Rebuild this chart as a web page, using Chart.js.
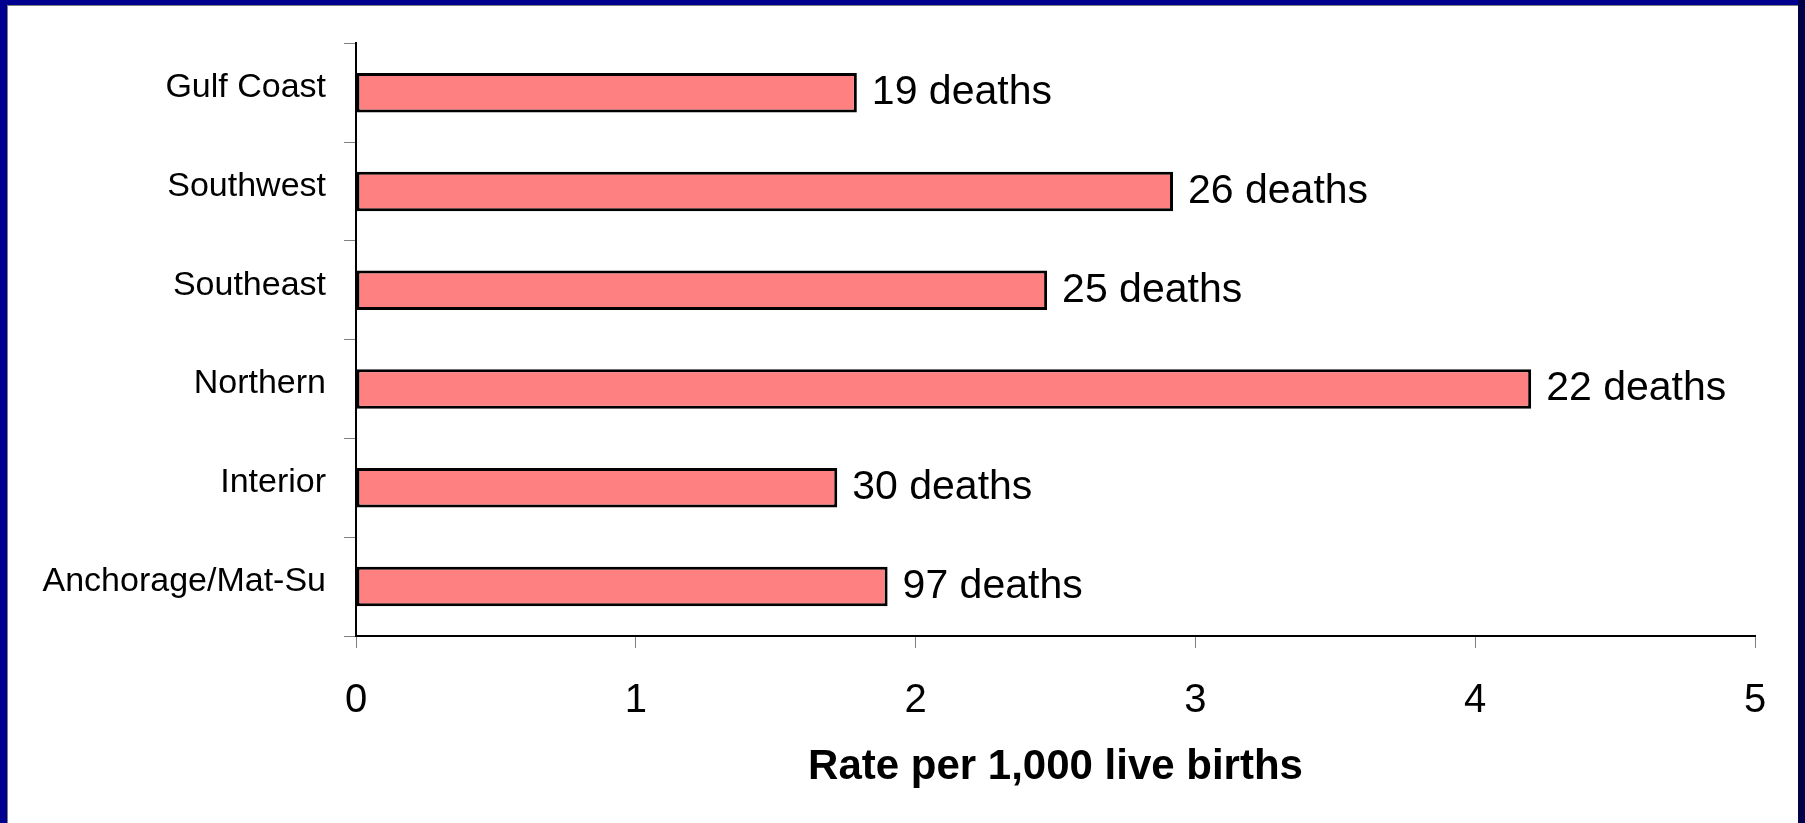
<!DOCTYPE html>
<html>
<head>
<meta charset="utf-8">
<script src="https://cdn.jsdelivr.net/npm/chart.js@4/dist/chart.umd.min.js"></script>
<style>
  html, body { margin: 0; padding: 0; background: #fff; overflow: hidden; }
  body { width: 1805px; height: 823px; position: relative; }
  .frameLeft { position: absolute; left: 0; top: 0; width: 7px; height: 823px; background: #000090; }
  .frameTop { position: absolute; left: 0; top: 0; width: 1805px; height: 5px; background: #000090; }
  .frameRight { position: absolute; right: 0; top: 0; width: 7px; height: 823px; background: #00004a; }
  .shade { position: absolute; left: 7px; top: 5px; width: 1791px; height: 818px;
           border-left: 1px solid #808080; border-top: 1px solid #808080; box-sizing: border-box; }
  #wrap { position: absolute; left: 7px; top: 5px; width: 1791px; height: 818px; }
</style>
</head>
<body>
<div id="wrap"><canvas id="barChart"></canvas></div>
<div class="shade"></div>
<div class="frameLeft"></div>
<div class="frameTop"></div>
<div class="frameRight"></div>
<script>
const ctx = document.getElementById('barChart')

let regions = ['Gulf Coast', 'Southwest', 'Southeast', 'Northern', 'Interior', 'Anchorage/Mat-Su']
let rates = [1.79, 2.92, 2.47, 4.2, 1.72, 1.9]
let deaths = [19, 26, 25, 22, 30, 97]
let xTicks = [0, 1, 2, 3, 4, 5]

// "NN deaths" text next to each bar
const deathLabels = {
  id: 'deathLabels',
  afterDatasetsDraw(chart) {
    const c = chart.ctx
    const meta = chart.getDatasetMeta(0)
    c.save()
    c.font = '41px "Liberation Sans", Arial, sans-serif'
    c.fillStyle = '#000'
    c.textAlign = 'left'
    c.textBaseline = 'middle'
    meta.data.forEach((bar, i) => {
      c.fillText(deaths[i] + ' deaths', bar.x + 15, bar.y)
    })
    c.restore()
  }
}

new Chart(ctx, {
  type: 'bar',
  data: {
    labels: regions,
    datasets: [{
      data: rates,
      backgroundColor: '#FF8080',
      borderColor: '#000',
      borderWidth: 3,
      borderSkipped: false,
      barPercentage: 0.4,
      categoryPercentage: 1,
    }],
  },
  options: {
    indexAxis: 'y',
    responsive: true,
    maintainAspectRatio: false,
    animation: false,
    layout: {
      padding: { left: 0, top: 29, right: 43, bottom: 0 },
    },
    scales: {
      y: {
        afterFit: (scale) => { scale.width = 349 },
        grid: {
          drawOnChartArea: false,
          color: '#808080',
          tickLength: 12,
          offset: true,
        },
        border: { color: '#000', width: 2 },
        ticks: {
          color: '#000',
          padding: 18,
          labelOffset: -5,
          font: { size: 34, family: '"Liberation Sans", Arial, sans-serif' },
        },
      },
      x: {
        min: 0,
        max: 5,
        afterFit: (scale) => { scale.height = 187 },
        afterBuildTicks: (scale) => { scale.ticks = xTicks.map(v => ({ value: v })) },
        grid: {
          drawOnChartArea: false,
          color: '#808080',
          tickLength: 12,
        },
        border: { color: '#000', width: 2 },
        ticks: {
          color: '#000',
          padding: 29,
          font: { size: 40, family: '"Liberation Sans", Arial, sans-serif' },
        },
        title: {
          display: true,
          text: 'Rate per 1,000 live births',
          color: '#000',
          padding: { top: 0, bottom: 30 },
          font: { size: 42, weight: 'bold', family: '"Liberation Sans", Arial, sans-serif' },
        },
      },
    },
    plugins: {
      legend: { display: false },
      tooltip: { enabled: false },
    },
  },
  plugins: [deathLabels],
})
</script>
</body>
</html>
